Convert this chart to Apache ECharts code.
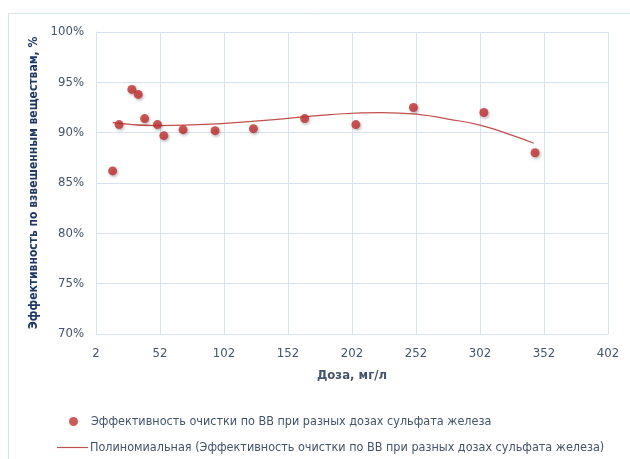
<!DOCTYPE html>
<html>
<head>
<meta charset="utf-8">
<script src="https://cdn.jsdelivr.net/npm/echarts@6/dist/echarts.min.js"></script>
<style>
  html, body { margin: 0; padding: 0; background: #fff; }
  #chart { width: 630px; height: 459px; }
</style>
</head>
<body>
<div id="chart"></div>
<script>
// Doses of ferric sulfate, mg/l
const doses = [15, 20, 30, 35, 40, 50, 55, 70, 95, 125, 165, 205, 250, 305, 345];
// Suspended solids removal efficiency (fraction)
const efficiency = [0.862, 0.908, 0.943, 0.938, 0.914, 0.908, 0.897, 0.903, 0.902, 0.904, 0.914, 0.908, 0.925, 0.920, 0.880];
// Polynomial trendline, sampled along the dose range
const trendX = [15, 50, 100, 150, 185, 225, 255, 277, 302, 329, 344];
const trendY = [0.910, 0.907, 0.909, 0.914, 0.918, 0.920, 0.918, 0.9135, 0.9075, 0.8965, 0.8895];
// Axis ticks
const xTicks = [2, 52, 102, 152, 202, 252, 302, 352, 402];
const yTicks = [0.70, 0.75, 0.80, 0.85, 0.90, 0.95, 1.00];

const seriesName = 'Эффективность очистки по ВВ при разных дозах сульфата железа';
const trendName = 'Полиномиальная (Эффективность очистки по ВВ при разных дозах сульфата железа)';

const FONT = '"Liberation Sans Narrow", "DejaVu Sans Condensed", "Liberation Sans", sans-serif';
const textColor = '#44546A';
const gridColor = '#D9E2F3';
const dotColor = '#C0302E';
const lineColor = '#C0504D';

const chart = echarts.init(document.getElementById('chart'));
chart.setOption({
  animation: false,
  textStyle: { fontFamily: FONT },
  graphic: [{
    type: 'rect',
    shape: { x: 8.5, y: 13.5, width: 700, height: 500 },
    style: { fill: 'none', stroke: gridColor, lineWidth: 1 },
    silent: true, z: -1
  }],
  grid: { left: 96, right: 22, top: 32, bottom: 125, containLabel: false },
  xAxis: {
    type: 'value',
    min: xTicks[0], max: xTicks[xTicks.length - 1], interval: 50,
    name: 'Доза, мг/л', nameLocation: 'middle', nameGap: 35,
    nameTextStyle: { color: textColor, fontWeight: 'bold', fontSize: 13, fontFamily: FONT },
    axisLine: { show: true, lineStyle: { color: gridColor } },
    axisTick: { show: false },
    axisLabel: { color: textColor, fontSize: 13, margin: 13, fontFamily: FONT },
    splitLine: { show: true, lineStyle: { color: gridColor, width: 1 } }
  },
  yAxis: {
    type: 'value',
    min: yTicks[0], max: yTicks[yTicks.length - 1], interval: 0.05,
    name: 'Эффективность по взвешенным веществам, %', nameLocation: 'middle', nameGap: 46,
    nameRotate: 90,
    nameTextStyle: { color: '#1F3864', fontWeight: 'bold', fontSize: 12, fontFamily: FONT },
    axisLine: { show: true, lineStyle: { color: gridColor } },
    axisTick: { show: false },
    axisLabel: {
      color: textColor, fontSize: 13, margin: 12, fontFamily: FONT,
      formatter: v => Math.round(v * 100) + '%'
    },
    splitLine: { show: true, lineStyle: { color: gridColor, width: 1 } }
  },
  legend: [
    {
      left: 64, top: 410, itemWidth: 9, itemHeight: 9, itemGap: 0,
      textStyle: { color: textColor, fontSize: 12.5, fontFamily: FONT, padding: [0, 0, 0, 8] },
      data: [{ name: seriesName, icon: 'circle' }]
    },
    {
      left: 52, top: 436, itemWidth: 31, itemHeight: 1.2, itemGap: 0,
      textStyle: { color: textColor, fontSize: 12.5, fontFamily: FONT, padding: [0, 0, 0, -3] },
      data: [{ name: trendName, icon: 'rect' }]
    }
  ],
  series: [
    {
      name: trendName, type: 'line',
      data: trendX.map((x, i) => [x, trendY[i]]),
      smooth: true, showSymbol: false, symbol: 'none',
      lineStyle: { color: lineColor, width: 1.2 },
      itemStyle: { color: lineColor },
      z: 2
    },
    {
      name: seriesName, type: 'scatter',
      data: doses.map((d, i) => [d, efficiency[i]]),
      symbol: 'circle', symbolSize: 9,
      itemStyle: {
        color: dotColor,
        shadowColor: 'rgba(0,0,0,0.35)', shadowBlur: 3, shadowOffsetX: 1, shadowOffsetY: 1.5
      },
      z: 3
    }
  ]
});
</script>
</body>
</html>
